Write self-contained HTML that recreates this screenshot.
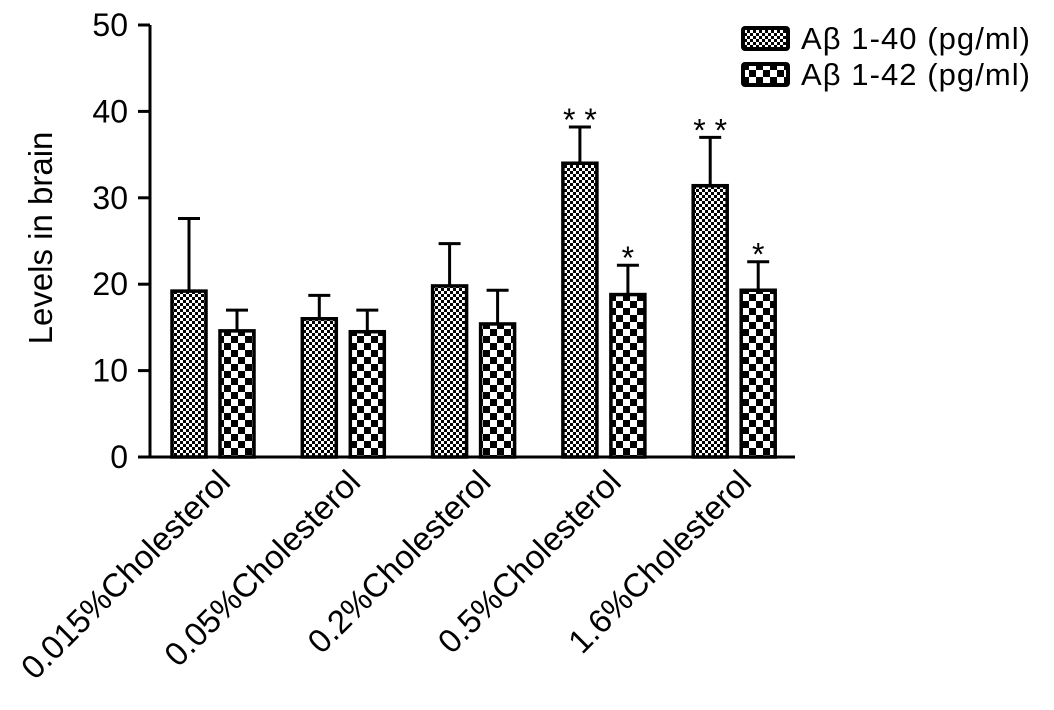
<!DOCTYPE html>
<html><head><meta charset="utf-8"><style>
body{margin:0;background:#fff;}
text{font-family:"Liberation Sans",Arial,sans-serif;fill:#000;}
</style></head><body>
<svg width="1054" height="705">
<defs>
<pattern id="fine" width="6" height="6" patternUnits="userSpaceOnUse">
<rect width="6" height="6" fill="#000"/><rect x="0" y="0" width="3" height="3" fill="#fff"/><rect x="3" y="3" width="3" height="3" fill="#fff"/>
</pattern>
<pattern id="coarse" width="14" height="14" patternUnits="userSpaceOnUse">
<rect width="14" height="14" fill="#000"/><rect x="0" y="0" width="7" height="7" fill="#fff"/><rect x="7" y="7" width="7" height="7" fill="#fff"/>
</pattern>
</defs>
<g id="axes"></g>
<g id="bars"></g>
<g id="legend">
<rect x="743" y="28" width="45" height="21" fill="url(#fine)" stroke="#000" stroke-width="4" rx="2"/>
<text x="801" y="49" font-size="31" textLength="229">Aβ 1-40 (pg/ml)</text>
<rect x="743" y="64" width="45" height="21" fill="url(#coarse)" stroke="#000" stroke-width="4" rx="2"/>
<text x="801" y="85" font-size="31" textLength="229">Aβ 1-42 (pg/ml)</text>
</g>
</svg>
<script>
const categories=["0.015%Cholesterol","0.05%Cholesterol","0.2%Cholesterol","0.5%Cholesterol","1.6%Cholesterol"];
const ab40=[19.2,16.0,19.8,34.0,31.4];
const ab40Err=[8.4,2.7,4.9,4.2,5.6];
const ab42=[14.6,14.5,15.4,18.8,19.3];
const ab42Err=[2.4,2.5,3.9,3.4,3.3];
const ab40Sig=["","","","* *","* *"];
const ab42Sig=["","","","*","*"];
const yTicks=[0,10,20,30,40,50];
const NS="http://www.w3.org/2000/svg";
const y=v=>457-v*8.64;
const groupX=i=>172+i*130.3;
function mk(tag,attrs,parent,txt){const e=document.createElementNS(NS,tag);for(const k in attrs)e.setAttribute(k,attrs[k]);if(txt!==undefined)e.textContent=txt;parent.appendChild(e);return e;}
const axes=document.getElementById('axes'),bars=document.getElementById('bars');
let e=mk('line',{x1:150,y1:457,x2:150,y2:25,stroke:'#000','stroke-width':3},axes);

e=mk('line',{x1:138,y1:457,x2:795,y2:457,stroke:'#000','stroke-width':3},axes);

yTicks.forEach(t=>{
 const l=mk('line',{x1:138,x2:150,y1:y(t),y2:y(t),stroke:'#000','stroke-width':3},axes);
 
 const tx=mk('text',{x:128,y:y(t)+11,'font-size':32,'text-anchor':'end'},axes,t);
 
});
e=mk('text',{x:0,y:0,'font-size':33,'text-anchor':'middle',transform:'translate(52,238) rotate(-90)'},axes,'Levels in brain');

function bar(x,v,err,fill,sig,name){
 const w=34;
 const ln=mk('line',{x1:x+w/2,x2:x+w/2,y1:y(v),y2:y(v+err),stroke:'#000','stroke-width':3},bars);
 
 const cp=mk('line',{x1:x+w/2-11,x2:x+w/2+11,y1:y(v+err),y2:y(v+err),stroke:'#000','stroke-width':3},bars);
 
 const r=mk('rect',{x:x,y:y(v),width:w,height:457-y(v),fill:fill,stroke:'#000','stroke-width':3.5},bars);
 
 if(sig){const s=mk('text',{x:x+w/2,y:y(v+err)+4,'font-size':32,'text-anchor':'middle'},bars,sig);
 }
}
categories.forEach((c,i)=>{
 const gx=groupX(i);
 bar(gx,ab40[i],ab40Err[i],'url(#fine)',ab40Sig[i],'bar-ab40-'+i);
 bar(gx+48,ab42[i],ab42Err[i],'url(#coarse)',ab42Sig[i],'bar-ab42-'+i);
 const tx=mk('text',{x:0,y:0,'font-size':33,'text-anchor':'end',transform:`translate(${gx+60},${484}) rotate(-45)`},axes,c);
 
});
</script>
</body></html>
